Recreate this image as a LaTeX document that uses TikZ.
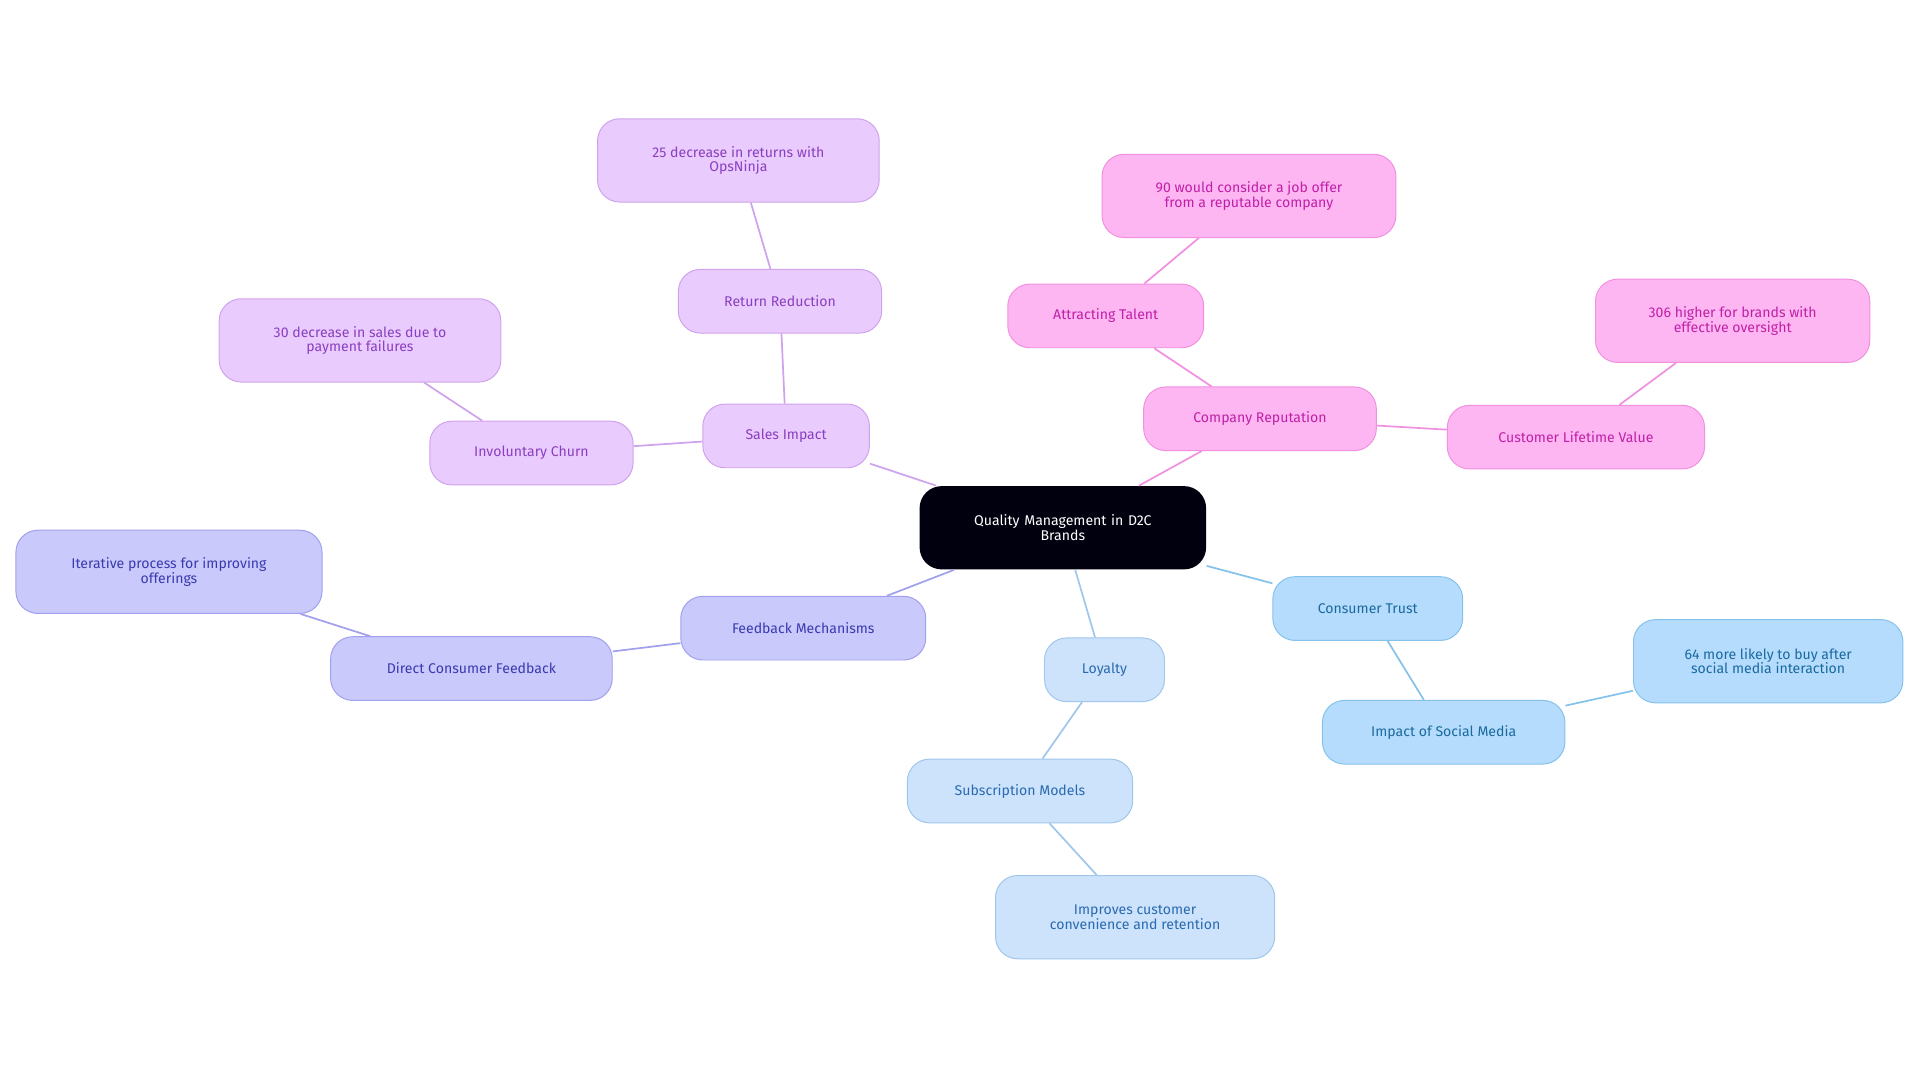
\documentclass[tikz,border=0pt]{standalone}
\usepackage{fontspec}
\setmainfont{Fira Sans}
\definecolor{pf}{HTML}{EACBFD}\definecolor{pd}{HTML}{CFA2EE}\definecolor{pt}{HTML}{8A3FC0}
\definecolor{vf}{HTML}{C9C9FC}\definecolor{vd}{HTML}{A0A0EC}\definecolor{vt}{HTML}{3A3AB0}
\definecolor{kf}{HTML}{FDB6F1}\definecolor{kd}{HTML}{F290E0}\definecolor{kt}{HTML}{C020A8}
\definecolor{bf}{HTML}{B5DCFC}\definecolor{bd}{HTML}{84C2EC}\definecolor{bt}{HTML}{1A6AA0}
\definecolor{lf}{HTML}{CDE3FC}\definecolor{ld}{HTML}{A0C6EC}\definecolor{lt}{HTML}{2A6AB0}
\tikzset{
 bx/.style={draw, rounded corners=18pt, align=center, font=\fontsize{11.5}{12}\selectfont, inner sep=0pt, line width=0.8pt},
 pb/.style={bx, fill=pf, draw=pd, text=pt},
 vb/.style={bx, fill=vf, draw=vd, text=vt},
 kb/.style={bx, fill=kf, draw=kd, text=kt},
 bb/.style={bx, fill=bf, draw=bd, text=bt},
 lb/.style={bx, fill=lf, draw=ld, text=lt},
 ed/.style={line width=1.4pt}
}
\begin{document}
\begin{tikzpicture}[x=1pt,y=-1pt]
\useasboundingbox (0,0) rectangle (1568,885);
\node[bx, fill=black!90!blue!60!black, draw=none, text=white, minimum width=234pt, minimum height=68pt, text width=200pt] (c) at (868,431) {Quality Management in D2C\\Brands};
\node[pb, minimum width=136pt, minimum height=52pt] (si) at (642,356) {Sales Impact};
\node[pb, minimum width=166pt, minimum height=52pt] (rr) at (637,246) {Return Reduction};
\node[pb, minimum width=230pt, minimum height=68pt] (r25) at (603,131) {25 decrease in returns with\\OpsNinja};
\node[pb, minimum width=166pt, minimum height=52pt] (ic) at (434,370) {Involuntary Churn};
\node[pb, minimum width=230pt, minimum height=68pt] (r30) at (294,278) {30 decrease in sales due to\\payment failures};
\node[vb, minimum width=200pt, minimum height=52pt] (fm) at (656,513) {Feedback Mechanisms};
\node[vb, minimum width=230pt, minimum height=52pt] (dcf) at (385,546) {Direct Consumer Feedback};
\node[vb, minimum width=250pt, minimum height=68pt] (it) at (138,467) {Iterative process for improving\\offerings};
\node[kb, minimum width=190pt, minimum height=52pt] (cr) at (1029,342) {Company Reputation};
\node[kb, minimum width=160pt, minimum height=52pt] (at) at (903,258) {Attracting Talent};
\node[kb, minimum width=240pt, minimum height=68pt] (r90) at (1020,160) {90 would consider a job offer\\from a reputable company};
\node[kb, minimum width=210pt, minimum height=52pt] (clv) at (1287,357) {Customer Lifetime Value};
\node[kb, minimum width=224pt, minimum height=68pt] (r306) at (1415,262) {306 higher for brands with\\effective oversight};
\node[bb, minimum width=155pt, minimum height=52pt] (ct) at (1117,497) {Consumer Trust};
\node[bb, minimum width=198pt, minimum height=52pt] (ism) at (1179,598) {Impact of Social Media};
\node[bb, minimum width=220pt, minimum height=68pt] (r64) at (1444,540) {64 more likely to buy after\\social media interaction};
\node[lb, minimum width=98pt, minimum height=52pt] (lo) at (902,547) {Loyalty};
\node[lb, minimum width=184pt, minimum height=52pt] (sm) at (833,646) {Subscription Models};
\node[lb, minimum width=228pt, minimum height=68pt] (imp) at (927,749) {Improves customer\\convenience and retention};
\begin{scope}[on background layer/.style={}]
\end{scope}
\begin{pgfonlayer}{main}\end{pgfonlayer}
\draw[ed,pd] (c) -- (si); \draw[ed,pd] (si) -- (rr); \draw[ed,pd] (rr) -- (r25);
\draw[ed,pd] (si) -- (ic); \draw[ed,pd] (ic) -- (r30);
\draw[ed,vd] (c) -- (fm); \draw[ed,vd] (fm) -- (dcf); \draw[ed,vd] (dcf) -- (it);
\draw[ed,kd] (c) -- (cr); \draw[ed,kd] (cr) -- (at); \draw[ed,kd] (at) -- (r90);
\draw[ed,kd] (cr) -- (clv); \draw[ed,kd] (clv) -- (r306);
\draw[ed,bd] (c) -- (ct); \draw[ed,bd] (ct) -- (ism); \draw[ed,bd] (ism) -- (r64);
\draw[ed,ld] (c) -- (lo); \draw[ed,ld] (lo) -- (sm); \draw[ed,ld] (sm) -- (imp);
\end{tikzpicture}
\end{document}
